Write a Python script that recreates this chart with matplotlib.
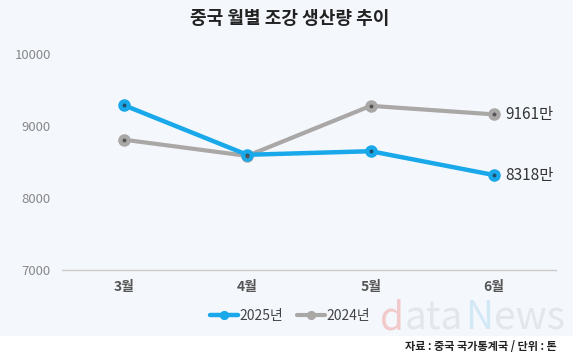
from matplotlib import pyplot as plt
from matplotlib.patches import Rectangle

plt.rcParams['font.family'] = ['Noto Sans CJK KR', 'DejaVu Sans']

months = ['3월', '4월', '5월', '6월']
y2025 = [9290, 8600, 8650, 8318]
y2024 = [8810, 8585, 9280, 9161]
yticks = [7000, 8000, 9000, 10000]

c25 = '#19A8EA'
c24 = '#AAA7A7'
bg = '#F4F7FC'

fig = plt.figure(figsize=(5.8, 3.58), dpi=100)
fig.patch.set_facecolor('white')
fig.patches.append(Rectangle((0, 1 - 336 / 358.), 573 / 580., 336 / 358., transform=fig.transFigure,
                             facecolor=bg, edgecolor='none', zorder=-10))

ax = fig.add_axes([62 / 580., 1 - 270 / 358., (556 - 62) / 580., (270 - 54) / 358.])
ax.set_facecolor('none')

x = range(len(months))
l25, = ax.plot(x, y2025, color=c25, lw=3.2, marker='o', ms=8, mfc=c25, mec=c25, zorder=3,
               solid_capstyle='round')
l24, = ax.plot(x, y2024, color=c24, lw=3.0, marker='o', ms=8, mfc=c24, mec=c24, zorder=2,
               solid_capstyle='round')
# dark centre dots
ax.plot(x, y2025, ls='none', marker='o', ms=1.8, color='#1F4E6B', zorder=4)
ax.plot(x, y2024, ls='none', marker='o', ms=1.8, color='#555555', zorder=4)

ax.text(3 + 0.09, y2024[-1], '%d만' % y2024[-1], va='center', ha='left', fontsize=11, color='#333333')
ax.text(3 + 0.09, y2025[-1], '%d만' % y2025[-1], va='center', ha='left', fontsize=11, color='#333333')

ax.set_xlim(-0.5, 3.5)
ax.set_ylim(7000, 10000)
ax.set_yticks(yticks)
ax.set_yticklabels([str(v) for v in yticks], fontsize=9.5, color='#888888')
ax.set_xticks(list(x))
ax.set_xticklabels(months, fontsize=10, color='#555555', fontweight='bold')
ax.tick_params(length=0, pad=7)
ax.tick_params(axis='y', pad=8)
for s in ['top', 'right', 'left']:
    ax.spines[s].set_visible(False)
ax.spines['bottom'].set_color('#CCCCCC')
ax.spines['bottom'].set_linewidth(1)

fig.text(0.5, 1 - 18 / 358., '중국 월별 조강 생산량 추이', ha='center', va='center',
         fontsize=13, fontweight='bold', color='#222222')

# watermark
wy = 1 - 318 / 358.
fig.text(380 / 580., wy, 'd', fontsize=28, color='#F2CACC', ha='left', va='center', zorder=-5)
fig.text(405 / 580., wy, 'ata', fontsize=28, color='#E3E6EA', ha='left', va='center', zorder=-5)
fig.text(465 / 580., wy, 'N', fontsize=28, color='#D3E8F6', ha='left', va='center', zorder=-5)
fig.text(494 / 580., wy, 'ews', fontsize=28, color='#E3E6EA', ha='left', va='center', zorder=-5)

leg = fig.legend([l25, l24], ['2025년', '2024년'], loc='center', ncol=2,
                 bbox_to_anchor=(290 / 580., 1 - 316 / 358.), frameon=False,
                 fontsize=10, handlelength=2.0, handletextpad=0.1, columnspacing=1.0,
                 markerscale=0.7)
for t in leg.get_texts():
    t.set_color('#444444')

fig.text(557 / 580., 1 - 346 / 358., '자료 : 중국 국가통계국 / 단위 : 톤', ha='right', va='center',
         fontsize=8, fontweight='bold', color='#222222')

fig.savefig('out.png', dpi=100, facecolor=fig.get_facecolor())
